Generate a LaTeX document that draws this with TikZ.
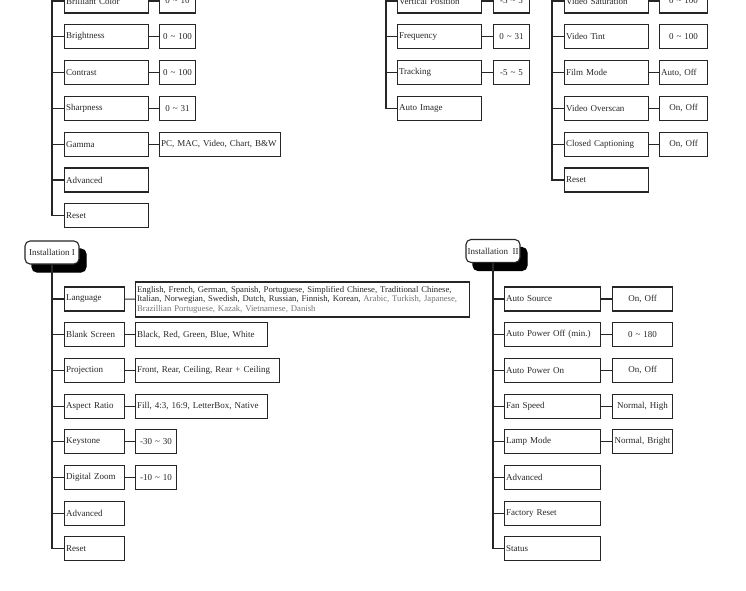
\documentclass[tikz,border=0pt]{standalone}
\usepackage{fontspec}
\setmainfont{Liberation Serif}
\usetikzlibrary{shadows}
\definecolor{langgrey}{gray}{0.45}

\begin{document}
\begin{tikzpicture}[x=1pt,y=-1pt,
  box/.style={draw=black!85,line width=1.1pt,minimum height=24pt,inner sep=1.5pt,anchor=west,text=black!85,font=\fontsize{9}{9.6}\selectfont},
  item/.style={box,text width=#1,align=left},
  value/.style={box,text width=#1,align=center},
  head/.style={box,anchor=center,rounded corners=5pt,fill=white,minimum width=54pt,minimum height=23pt,copy shadow={shadow xshift=7pt,shadow yshift=-8pt,fill=black,draw=black}},
  conn/.style={draw=black!85,line width=1.1pt}]
\useasboundingbox (0,0) rectangle (746,590);
\clip (0,0) rectangle (746,590);

% picture menu (left)
\coordinate (ta) at (52,-20);
\node[item=81pt] (bc) at (64,1) {Brilliant Color};
\node[item=81pt] (br) at (64,36.8) {Brightness};
\node[item=81pt] (ct) at (64,72.6) {Contrast};
\node[item=81pt] (sh) at (64,108.4) {Sharpness};
\node[item=81pt] (gm) at (64,144.2) {Gamma};
\node[item=81pt] (adv) at (64,180) {Advanced};
\node[item=81pt] (rst) at (64,215.8) {Reset};
\node[value=33pt] (bc-v) at (159,1) {0 \textasciitilde{} 10};
\node[value=33pt] (br-v) at (159,36.8) {0 \textasciitilde{} 100};
\node[value=33pt] (ct-v) at (159,72.6) {0 \textasciitilde{} 100};
\node[value=33pt] (sh-v) at (159,108.4) {0 \textasciitilde{} 31};
\node[item=118pt] (gm-v) at (159,144.2) {PC, MAC, Video, Chart, B\&W};

% computer menu (middle)
\coordinate (tb) at (386,-20);
\node[item=81pt] (vp) at (397,1) {Vertical Position};
\node[item=81pt] (fq) at (397,36.8) {Frequency};
\node[item=81pt] (tr) at (397,72.6) {Tracking};
\node[item=81pt] (ai) at (397,108.4) {Auto Image};
\node[value=33pt] (vp-v) at (493,1) {-5 \textasciitilde{} 5};
\node[value=33pt] (fq-v) at (493,36.8) {0 \textasciitilde{} 31};
\node[value=33pt] (tr-v) at (493,72.6) {-5 \textasciitilde{} 5};

% video menu (right)
\coordinate (tc) at (552,-20);
\node[item=81pt] (vs) at (564,1) {Video Saturation};
\node[item=81pt] (vt) at (564,36.8) {Video Tint};
\node[item=81pt] (fm) at (564,72.6) {Film Mode};
\node[item=81pt] (vo) at (564,108.4) {Video Overscan};
\node[item=81pt] (cc) at (564,144.2) {Closed Captioning};
\node[item=81pt] (vrs) at (564,180) {Reset};
\node[value=45pt] (vs-v) at (659,1) {0 \textasciitilde{} 100};
\node[value=45pt] (vt-v) at (659,36.8) {0 \textasciitilde{} 100};
\node[item=45pt] (fm-v) at (659,72.6) {Auto, Off};
\node[value=45pt] (vo-v) at (659,108.4) {On, Off};
\node[value=45pt] (cc-v) at (659,144.2) {On, Off};

% Installation I
\node[head] (h1) at (52,252.5) {Installation I};
\node[item=57pt] (lg) at (64,299) {Language};
\node[item=57pt] (bs) at (64,334.7) {Blank Screen};
\node[item=57pt] (pj) at (64,370.4) {Projection};
\node[item=57pt] (ar) at (64,406.1) {Aspect Ratio};
\node[item=57pt] (ks) at (64,441.8) {Keystone};
\node[item=57pt] (dz) at (64,477.5) {Digital Zoom};
\node[item=57pt] (adv1) at (64,513.2) {Advanced};
\node[item=57pt] (rst1) at (64,548.9) {Reset};
\node[item=331pt,minimum height=35pt,font=\fontsize{8.7}{9.6}\selectfont] (lg-v) at (135,299.5) {English, French, German, Spanish, Portuguese, Simplified Chinese, Traditional Chinese,\\
Italian, Norwegian, Swedish, Dutch, Russian, Finnish, Korean, \textcolor{langgrey}{Arabic, Turkish, Japanese,}\\
\textcolor{langgrey}{Brazillian Portuguese, Kazak, Vietnamese, Danish}};
\node[item=129pt] (bs-v) at (135,334.7) {Black, Red, Green, Blue, White};
\node[item=141pt] (pj-v) at (135,370.4) {Front, Rear, Ceiling, Rear + Ceiling};
\node[item=129pt] (ar-v) at (135,406.1) {Fill, 4:3, 16:9, LetterBox, Native};
\node[value=38pt] (ks-v) at (135,441.8) {-30 \textasciitilde{} 30};
\node[value=38pt] (dz-v) at (135,477.5) {-10 \textasciitilde{} 10};

% Installation II
\node[head] (h2) at (493,251) {Installation~ II};
\node[item=93pt] (as) at (504,299) {Auto Source};
\node[item=93pt] (apf) at (504,334.7) {Auto Power Off (min.)};
\node[item=93pt] (apn) at (504,370.4) {Auto Power On};
\node[item=93pt] (fs) at (504,406.1) {Fan Speed};
\node[item=93pt] (lm) at (504,441.8) {Lamp Mode};
\node[item=93pt] (adv2) at (504,477.5) {Advanced};
\node[item=93pt] (fr) at (504,513.2) {Factory Reset};
\node[item=93pt] (st) at (504,548.9) {Status};
\node[value=57pt] (as-v) at (612,299) {On, Off};
\node[value=57pt] (apf-v) at (612,334.7) {0 \textasciitilde{} 180};
\node[value=57pt] (apn-v) at (612,370.4) {On, Off};
\node[value=57pt] (fs-v) at (612,406.1) {Normal, High};
\node[value=57pt] (lm-v) at (612,441.8) {Normal, Bright};

% trunks
\draw[conn] (ta) |- (rst.west);
\draw[conn] (tb) |- (ai.west);
\draw[conn] (tc) |- (vrs.west);
\draw[conn] (h1.south) |- (rst1.west);
\draw[conn] (h2.south) |- (st.west);

% branches
\path[conn]
(bc.west -| ta) edge (bc) (br.west -| ta) edge (br) (ct.west -| ta) edge (ct)
(sh.west -| ta) edge (sh) (gm.west -| ta) edge (gm) (adv.west -| ta) edge (adv)
(vp.west -| tb) edge (vp) (fq.west -| tb) edge (fq) (tr.west -| tb) edge (tr)
(vs.west -| tc) edge (vs) (vt.west -| tc) edge (vt) (fm.west -| tc) edge (fm)
(vo.west -| tc) edge (vo) (cc.west -| tc) edge (cc)
(lg.west -| h1) edge (lg) (bs.west -| h1) edge (bs) (pj.west -| h1) edge (pj)
(ar.west -| h1) edge (ar) (ks.west -| h1) edge (ks) (dz.west -| h1) edge (dz)
(adv1.west -| h1) edge (adv1)
(as.west -| h2) edge (as) (apf.west -| h2) edge (apf) (apn.west -| h2) edge (apn)
(fs.west -| h2) edge (fs) (lm.west -| h2) edge (lm) (adv2.west -| h2) edge (adv2)
(fr.west -| h2) edge (fr)
;
\path[conn]
(bc) edge (bc-v) (br) edge (br-v) (ct) edge (ct-v) (sh) edge (sh-v) (gm) edge (gm-v)
(vp) edge (vp-v) (fq) edge (fq-v) (tr) edge (tr-v)
(vs) edge (vs-v) (fm) edge (fm-v) (vo) edge (vo-v) (cc) edge (cc-v)
(lg) edge (lg-v) (bs) edge (bs-v) (pj) edge (pj-v) (ar) edge (ar-v)
(ks) edge (ks-v) (dz) edge (dz-v)
(as) edge (as-v) (apf) edge (apf-v) (apn) edge (apn-v) (fs) edge (fs-v) (lm) edge (lm-v)
;
\end{tikzpicture}
\end{document}
